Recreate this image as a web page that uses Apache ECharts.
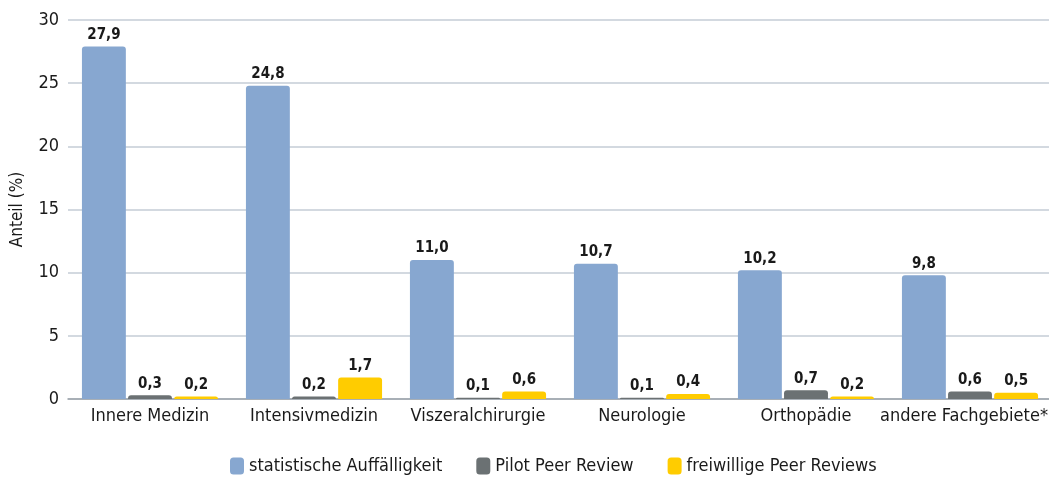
<!DOCTYPE html>
<html>
<head>
<meta charset="utf-8">
<script src="https://cdn.jsdelivr.net/npm/echarts@6/dist/echarts.min.js"></script>
<style>
  html, body { margin: 0; padding: 0; background: #fff; }
  #chart { width: 1049px; height: 477px; }
</style>
</head>
<body>
<div id="chart"></div>
<script>
// Fachgebiete on the x axis
const categories = ['Innere Medizin', 'Intensivmedizin', 'Viszeralchirurgie', 'Neurologie', 'Orthopädie', 'andere Fachgebiete*'];
// Anteil (%) per series
const statistisch = [27.9, 24.8, 11.0, 10.7, 10.2, 9.8];
const pilot = [0.3, 0.2, 0.1, 0.1, 0.7, 0.6];
const freiwillig = [0.2, 1.7, 0.6, 0.4, 0.2, 0.5];
const seriesNames = ['statistische Auffälligkeit', 'Pilot Peer Review', 'freiwillige Peer Reviews'];
const yTicks = [0, 5, 10, 15, 20, 25, 30];

const FONT = '"DejaVu Sans Condensed", "Liberation Sans Narrow", "Noto Sans", sans-serif';
const colors = ['#87A7D0', '#6B7173', '#FFCC00'];

const fmt = v => v.toFixed(1).replace('.', ',');

function bar(name, data, color) {
  return {
    name: name,
    type: 'bar',
    data: data,
    barGap: '5%',
    barCategoryGap: '17%',
    itemStyle: { color: color, borderRadius: [3, 3, 0, 0] },
    label: {
      show: true,
      position: 'top',
      distance: 4,
      formatter: p => fmt(p.value),
      fontFamily: FONT,
      fontWeight: 'bold',
      fontSize: 15,
      color: '#1a1a1a'
    }
  };
}

const lastIndex = categories.length - 1;

const chart = echarts.init(document.getElementById('chart'), null, { renderer: 'canvas' });
chart.setOption({
  animation: false,
  color: colors,
  textStyle: { fontFamily: FONT },
  grid: { left: 68, right: -3, top: 20, bottom: 78, containLabel: false, outerBoundsMode: 'none' },
  legend: {
    bottom: 2,
    left: 230,
    padding: 0,
    itemWidth: 14,
    itemHeight: 17,
    itemGap: 34,
    icon: 'roundRect',
    textStyle: { fontFamily: FONT, fontSize: 18, color: '#1a1a1a' },
    data: seriesNames
  },
  xAxis: {
    type: 'category',
    data: categories,
    axisTick: { show: false },
    axisLine: { lineStyle: { color: '#9aa1a8', width: 1.5 } },
    axisLabel: {
      fontFamily: FONT,
      fontSize: 18,
      color: '#1a1a1a',
      margin: 8,
      interval: 0,
      // keep the last label inside the chart's right edge
      formatter: (value, index) => index === lastIndex ? '{last|' + value + '}' : value,
      rich: {
        last: { fontFamily: FONT, fontSize: 18, color: '#1a1a1a', padding: [0, 12, 0, 0] }
      }
    }
  },
  yAxis: {
    type: 'value',
    min: yTicks[0],
    max: yTicks[yTicks.length - 1],
    interval: 5,
    name: 'Anteil (%)',
    nameLocation: 'middle',
    nameGap: 42,
    nameTextStyle: { fontFamily: FONT, fontSize: 17, color: '#1a1a1a' },
    axisLine: { show: false },
    axisTick: { show: false },
    axisLabel: { fontFamily: FONT, fontSize: 18, color: '#1a1a1a', margin: 9 },
    splitLine: { lineStyle: { color: '#c5ccd6', width: 1.5 } }
  },
  series: [
    bar(seriesNames[0], statistisch, colors[0]),
    bar(seriesNames[1], pilot, colors[1]),
    bar(seriesNames[2], freiwillig, colors[2])
  ]
});
</script>
</body>
</html>
